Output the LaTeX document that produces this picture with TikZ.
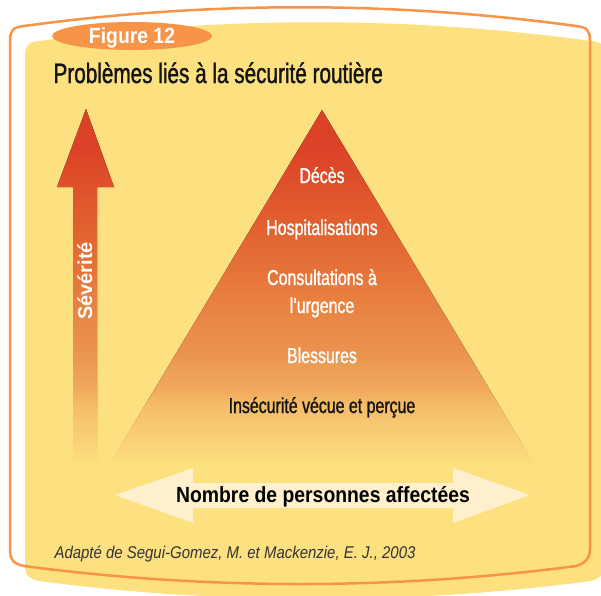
\documentclass[tikz,border=0pt]{standalone}
\usepackage{fontspec}
\setmainfont{Liberation Sans}
\newfontfamily\narrowfont[FakeStretch=0.74, FakeBold=1.2]{Liberation Sans}
\newfontfamily\semifont[FakeStretch=0.88]{Liberation Sans}
\usetikzlibrary{positioning, shapes.geometric, fadings}
\definecolor{panelyellow}{RGB}{253,224,128}
\definecolor{frameorange}{RGB}{247,148,72}
\definecolor{arrowcream}{RGB}{254,240,204}
\definecolor{sevB}{RGB}{243,180,100}
\definecolor{sevC}{RGB}{235,150,80}
\definecolor{sevD}{RGB}{232,128,64}
\definecolor{sevE}{RGB}{226,98,48}
\definecolor{sevF}{RGB}{220,66,39}
\definecolor{inktext}{RGB}{20,20,20}
\definecolor{citegray}{RGB}{51,51,51}
\pgfdeclareverticalshading{severity}{100bp}{color(0bp)=(sevB); color(33bp)=(sevB);
  color(40bp)=(sevC); color(48bp)=(sevD); color(58bp)=(sevE); color(69.5bp)=(sevF); color(100bp)=(sevF)}

\begin{document}
\begin{tikzpicture}[x=1pt, y=-1pt,
    level/.style={text=white, font=\narrowfont\fontsize{21.5}{24}\selectfont, anchor=base},
    caption/.style={font=\narrowfont\fontsize{28}{30}\selectfont, text=inktext, anchor=base west},
    badge/.style={ellipse, fill=frameorange, minimum width=160pt, minimum height=28pt, inner sep=0pt}]
  \clip (0,0) rectangle (601,595);
  \fill[white] (0,0) rectangle (601,595);

  % Panel and frame
  \fill[panelyellow, shift={(15,15)}] (10,550) -- (10,40) .. controls (10,30) and (14,27) .. (24,26)
    .. controls (207,1) and (393,1) .. (576,26) .. controls (586,27) and (590,30) .. (590,40)
    -- (590,548) .. controls (590,558) and (586,563) .. (576,566)
    .. controls (393,590) and (207,590) .. (24,566) .. controls (14,564) and (10,560) .. cycle;
  \draw[frameorange, line width=2.5pt] (10,550) -- (10,40) .. controls (10,30) and (14,27) .. (24,26)
    .. controls (207,1) and (393,1) .. (576,26) .. controls (586,27) and (590,30) .. (590,40)
    -- (590,548) .. controls (590,558) and (586,563) .. (576,566)
    .. controls (393,590) and (207,590) .. (24,566) .. controls (14,564) and (10,560) .. cycle;

  % Heading
  \node[badge] (badge) at (132,36) {};
  \node[text=white, font=\semifont\bfseries\fontsize{22}{24}\selectfont, anchor=base] (figno) at (132,43) {Figure 12};
  \node[caption] (title) at (50,83) {Problèmes liés à la sécurité routière};

  % Severity arrow and pyramid, faded out at the bottom
  \fill[shading=severity] (86,109) -- (114,187) -- (97,187) -- (97,462) -- (73,462) -- (73,187) -- (57,187) -- cycle;
  \fill[shading=severity] (322,110) -- (533,462) -- (111,462) -- cycle;
  \fill[panelyellow, path fading=north] (50,390) rectangle (560,465);

  \node[rotate=90, text=white, font=\bfseries\fontsize{20}{22}\selectfont] (sev) at (85,281) {Sévérité};
  \node[level] (deces) at (322,183) {Décès};
  \node[level] (hosp) at (322,235) {Hospitalisations};
  \node[level] (consult) at (322,285) {Consultations à};
  \node[level] (urg) at (322,313) {l’urgence};
  \node[level] (bless) at (322,363) {Blessures};
  \node[level, text=inktext] (insec) at (322,413) {Insécurité vécue et perçue};

  % People arrow
  \fill[arrowcream] (115,495) -- (193,468) -- (193,483) -- (453,483) -- (453,468) -- (530,495)
    -- (453,523) -- (453,508) -- (193,508) -- (193,523) -- cycle;
  \node[font=\semifont\bfseries\fontsize{22}{24}\selectfont, text=black, anchor=base] (people) at (323,502) {Nombre de personnes affectées};

  % Source
  \node[font=\semifont\itshape\fontsize{17}{19}\selectfont, text=citegray, anchor=base west] (source) at (51,558) {Adapté de Segui-Gomez, M. et Mackenzie, E. J., 2003};
\end{tikzpicture}
\end{document}
